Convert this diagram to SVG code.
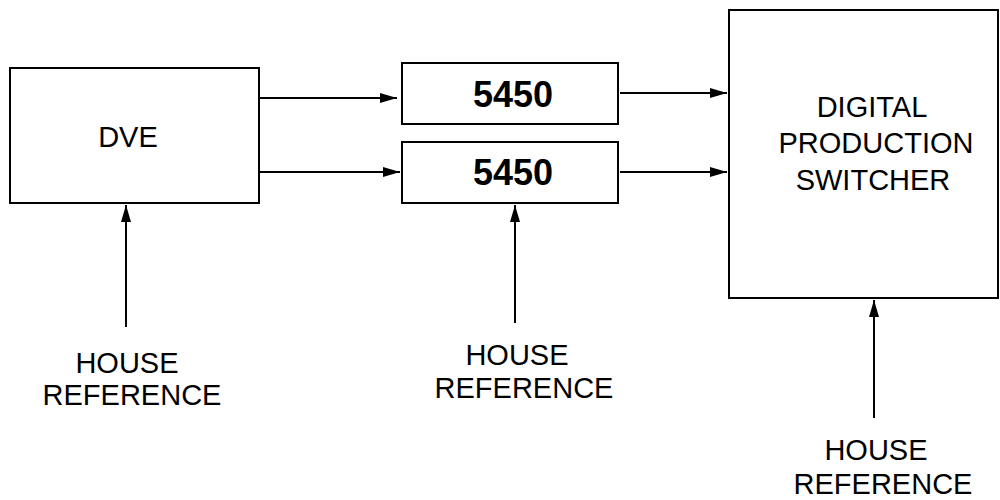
<svg xmlns="http://www.w3.org/2000/svg" width="1000" height="500" viewBox="0 0 1000 500">
<defs>
<marker id="ah" markerWidth="17" markerHeight="10" refX="17" refY="5" orient="auto" markerUnits="userSpaceOnUse">
<path d="M0,0 L17,5 L0,10 Z" fill="#000"/>
</marker>
<style>
.box{fill:#fff;stroke:#000;stroke-width:2}
.lbl{font-family:"Liberation Sans",Arial,sans-serif;font-size:29px;fill:#000;text-anchor:middle}
.num{font-family:"Liberation Sans",Arial,sans-serif;font-size:36px;font-weight:bold;fill:#000;text-anchor:middle}
.conn{stroke:#000;stroke-width:2;fill:none;marker-end:url(#ah)}
</style>
</defs>
<rect width="1000" height="500" fill="#fff"/>
<g id="dve">
<rect class="box" x="10" y="68" width="249" height="135"/>
<text class="lbl" x="128" y="147">DVE</text>
</g>
<g id="conv1">
<rect class="box" x="402" y="63" width="216" height="61"/>
<text class="num" x="513" y="107">5450</text>
</g>
<g id="conv2">
<rect class="box" x="402" y="142" width="216" height="61"/>
<text class="num" x="513" y="185">5450</text>
</g>
<g id="switcher">
<rect class="box" x="729" y="10" width="269" height="288"/>
<text class="lbl" x="872" y="117">DIGITAL</text>
<text class="lbl" x="876" y="153">PRODUCTION</text>
<text class="lbl" x="873" y="190">SWITCHER</text>
</g>
<g id="ref1">
<text class="lbl" x="127" y="373">HOUSE</text>
<text class="lbl" x="132" y="405">REFERENCE</text>
</g>
<g id="ref2">
<text class="lbl" x="517" y="365">HOUSE</text>
<text class="lbl" x="524" y="398">REFERENCE</text>
</g>
<g id="ref3">
<text class="lbl" x="876" y="460">HOUSE</text>
<text class="lbl" x="883" y="494">REFERENCE</text>
</g>
<g id="connectors">
<line class="conn" x1="259" y1="98" x2="397" y2="98"/>
<line class="conn" x1="259" y1="172" x2="400" y2="172"/>
<line class="conn" x1="620" y1="93" x2="727" y2="93"/>
<line class="conn" x1="620" y1="172" x2="727" y2="172"/>
<line class="conn" x1="126" y1="327" x2="126" y2="205"/>
<line class="conn" x1="515" y1="323" x2="515" y2="205"/>
<line class="conn" x1="874" y1="418" x2="874" y2="300"/>
</g>
</svg>
